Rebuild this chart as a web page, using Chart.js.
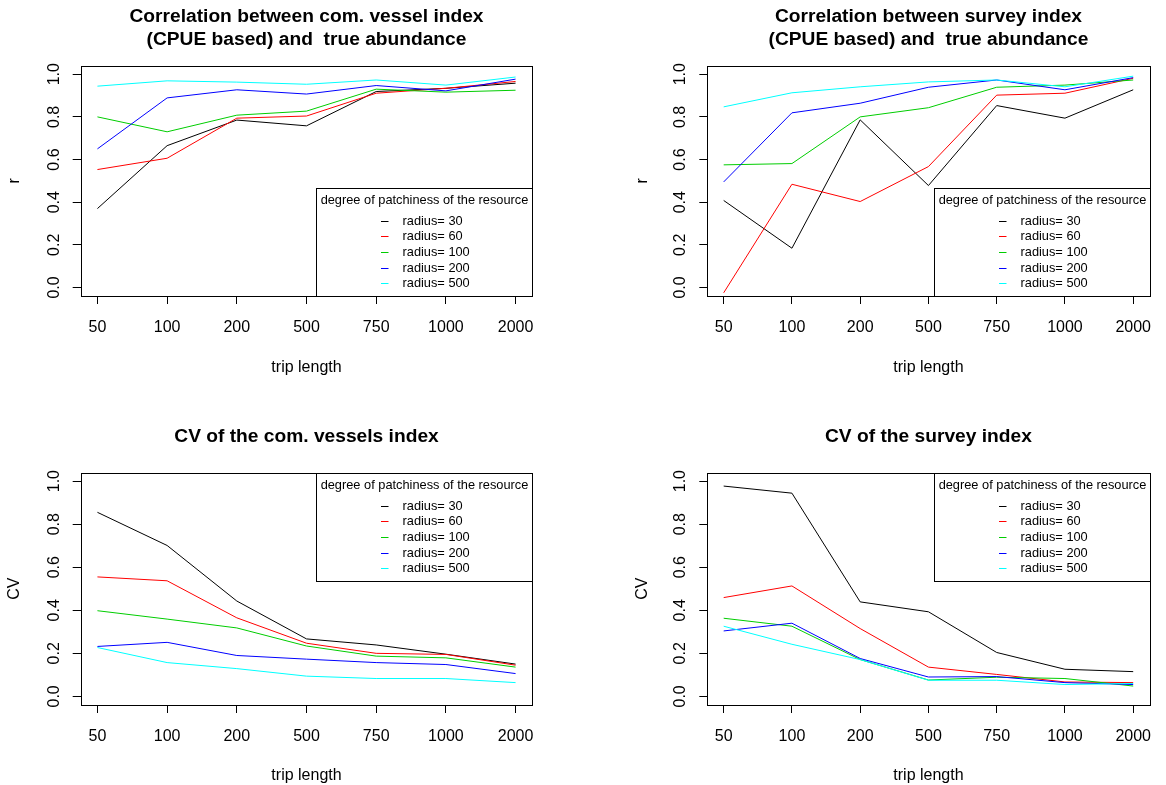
<!DOCTYPE html>
<html lang="en">
<head>
<meta charset="utf-8">
<title>Index vs true abundance by trip length</title>
<style>
  html, body { margin: 0; padding: 0; background: #fff; }
  #page { position: relative; width: 1166px; height: 785px; overflow: hidden; }
  #page canvas { position: absolute; }
</style>
</head>
<body>
<div id="page">
  <canvas id="comCorrCanvas" width="583" height="392" style="left:0;top:0"></canvas>
  <canvas id="surveyCorrCanvas" width="583" height="392" style="left:583px;top:0"></canvas>
  <canvas id="comCvCanvas" width="583" height="393" style="left:0;top:392px"></canvas>
  <canvas id="surveyCvCanvas" width="583" height="393" style="left:583px;top:392px"></canvas>
</div>
<script src="https://cdn.jsdelivr.net/npm/chart.js@4"></script>
<script>

// x categories (trip length) and the patchiness levels
const tripLengths = ['50', '100', '200', '500', '750', '1000', '2000'];
const radii = [30, 60, 100, 200, 500];
const lineColors = ['#000000', '#FF0000', '#00CD00', '#0000FF', '#00FFFF'];
const yTicks = [0, 0.2, 0.4, 0.6, 0.8, 1.0];

// one row per radius (30, 60, 100, 200, 500), one value per trip length
const comVesselCorr = [
  [0.370, 0.665, 0.785, 0.758, 0.919, 0.934, 0.958],
  [0.553, 0.606, 0.794, 0.804, 0.911, 0.934, 0.966],
  [0.800, 0.730, 0.808, 0.827, 0.930, 0.916, 0.925],
  [0.650, 0.889, 0.927, 0.907, 0.947, 0.922, 0.977],
  [0.944, 0.969, 0.963, 0.953, 0.973, 0.949, 0.987]
];
const surveyCorr = [
  [0.408, 0.184, 0.786, 0.478, 0.853, 0.794, 0.927],
  [-0.025, 0.484, 0.403, 0.567, 0.902, 0.911, 0.981],
  [0.575, 0.581, 0.800, 0.843, 0.939, 0.949, 0.973],
  [0.495, 0.819, 0.864, 0.939, 0.973, 0.927, 0.984],
  [0.847, 0.913, 0.941, 0.964, 0.973, 0.941, 0.991]
];
const comVesselCV = [
  [0.855, 0.701, 0.443, 0.267, 0.239, 0.196, 0.150],
  [0.555, 0.537, 0.365, 0.247, 0.200, 0.195, 0.145],
  [0.398, 0.359, 0.318, 0.234, 0.187, 0.179, 0.136],
  [0.232, 0.251, 0.190, 0.173, 0.157, 0.148, 0.106],
  [0.227, 0.157, 0.129, 0.094, 0.083, 0.083, 0.064]
];
const surveyCV = [
  [0.977, 0.944, 0.439, 0.393, 0.204, 0.126, 0.115],
  [0.459, 0.513, 0.315, 0.136, 0.102, 0.067, 0.064],
  [0.363, 0.326, 0.171, 0.076, 0.089, 0.083, 0.048],
  [0.304, 0.340, 0.176, 0.090, 0.092, 0.064, 0.055],
  [0.326, 0.242, 0.171, 0.075, 0.075, 0.055, 0.060]
];

Chart.defaults.font.family = '"Liberation Sans", Arial, Helvetica, sans-serif';
Chart.defaults.color = '#000';

// boxed legend inside the plot, like R's legend(title=...)
const patchLegend = {
  id: 'patchLegend',
  afterDatasetsDraw(chart, args, opts) {
    const ctx = chart.ctx, a = chart.chartArea;
    const w = 216, h = 108;
    const left = Math.round(a.right) - w + 0.5;
    const top = opts.corner === 'bottomright' ? Math.round(a.bottom) - h + 0.5 : Math.round(a.top) + 0.5;
    ctx.save();
    ctx.fillStyle = '#fff';
    ctx.fillRect(left, top, w, h);
    ctx.strokeStyle = '#000';
    ctx.lineWidth = 1;
    ctx.strokeRect(left, top, w, h);
    ctx.font = '12.8px "Liberation Sans", Arial, sans-serif';
    ctx.fillStyle = '#000';
    ctx.textAlign = 'center';
    ctx.textBaseline = 'middle';
    ctx.fillText(opts.title, left + w / 2, top + 12.3);
    ctx.textAlign = 'left';
    chart.data.datasets.forEach(function(ds, i) {
      const y = Math.round(top + 32 + i * 15.7) + 0.5;
      ctx.strokeStyle = ds.borderColor;
      ctx.beginPath();
      ctx.moveTo(left + 64.5, y);
      ctx.lineTo(left + 72, y);
      ctx.stroke();
      ctx.fillStyle = '#000';
      ctx.fillText(ds.label, left + 86, y);
    });
    ctx.restore();
  }
};

// full frame around the plot region
const plotBox = {
  id: 'plotBox',
  afterDatasetsDraw(chart) {
    const ctx = chart.ctx, a = chart.chartArea;
    ctx.save();
    ctx.strokeStyle = '#000';
    ctx.lineWidth = 1;
    ctx.strokeRect(Math.round(a.left) + 0.5, Math.round(a.top) + 0.5,
                   Math.round(a.right) - Math.round(a.left), Math.round(a.bottom) - Math.round(a.top));
    ctx.restore();
  }
};

function makePanel(canvasId, p) {
  const canvas = document.getElementById(canvasId);
  const W = canvas.width, H = canvas.height;
  const titleLH = 23;
  const titlePadTop = p.titleY - titleLH / 2;
  const titlePadBottom = p.box.top - titlePadTop - p.title.length * titleLH;
  const labelLH = 19.2;

  const datasets = radii.map(function(r, i) {
    return {
      label: 'radius= ' + r,
      data: p.values[i].map(function(v, j) { return {x: j + 1, y: v}; }),
      borderColor: lineColors[i],
      backgroundColor: lineColors[i],
      borderWidth: 1,
      pointRadius: 0,
      tension: 0,
      order: radii.length - i
    };
  });

  return new Chart(canvas, {
    type: 'line',
    data: { datasets: datasets },
    options: {
      responsive: false,
      animation: false,
      events: [],
      layout: { autoPadding: false, padding: { left: 0, right: W - p.box.right, top: 0, bottom: 0 } },
      plugins: {
        legend: { display: false },
        tooltip: { enabled: false },
        title: {
          display: true,
          fullSize: false,
          text: p.title,
          color: '#000',
          font: { size: 19.2, weight: 'bold', lineHeight: titleLH + 'px' },
          padding: { top: titlePadTop, bottom: titlePadBottom }
        },
        patchLegend: { corner: p.legendCorner, title: 'degree of patchiness of the resource' }
      },
      scales: {
        x: {
          type: 'linear',
          min: 0.76,
          max: 7.24,
          afterBuildTicks: function(s) { s.ticks = tripLengths.map(function(t, j) { return {value: j + 1}; }); },
          afterFit: function(s) { s.height = H - p.box.bottom; },
          grid: { drawOnChartArea: false, drawTicks: true, tickLength: 8, color: '#000' },
          border: { display: false },
          ticks: {
            color: '#000', font: { size: 16 }, padding: 14.4,
            maxRotation: 0, autoSkip: false,
            callback: function(v) { return tripLengths[v - 1]; }
          },
          title: {
            display: true, text: 'trip length', color: '#000', font: { size: 16 },
            padding: { top: 0, bottom: H - labelLH / 2 - p.xTitleY }
          }
        },
        y: {
          type: 'linear',
          min: -0.04,
          max: 1.04,
          afterBuildTicks: function(s) { s.ticks = yTicks.map(function(v) { return {value: v}; }); },
          afterFit: function(s) { s.width = p.box.left; },
          grid: { drawOnChartArea: false, drawTicks: true, tickLength: 8, color: '#000' },
          border: { display: false },
          ticks: {
            color: '#000', font: { size: 16 }, padding: 7.4,
            minRotation: 90, maxRotation: 90, crossAlign: 'center',
            callback: function(v) { return v.toFixed(1); }
          },
          title: {
            display: true, text: p.yTitle, color: '#000', font: { size: 16 },
            padding: { top: p.yTitleX - labelLH / 2, bottom: 0 }
          }
        }
      }
    },
    plugins: [patchLegend, plotBox]
  });
}

makePanel('comCorrCanvas', {
  title: ['Correlation between com. vessel index', '(CPUE based) and  true abundance'],
  values: comVesselCorr, yTitle: 'r', legendCorner: 'bottomright',
  box: { left: 80.7, top: 65.7, right: 532.3, bottom: 296 },
  titleY: 16.5, yTitleX: 15, xTitleY: 367.5
});
makePanel('surveyCorrCanvas', {
  title: ['Correlation between survey index', '(CPUE based) and  true abundance'],
  values: surveyCorr, yTitle: 'r', legendCorner: 'bottomright',
  box: { left: 124.3, top: 65.7, right: 576.3, bottom: 296 },
  titleY: 16.5, yTitleX: 60, xTitleY: 367.5
});
makePanel('comCvCanvas', {
  title: ['CV of the com. vessels index'],
  values: comVesselCV, yTitle: 'CV', legendCorner: 'topright',
  box: { left: 80.7, top: 80.5, right: 532.3, bottom: 313 },
  titleY: 44.5, yTitleX: 15, xTitleY: 383.5
});
makePanel('surveyCvCanvas', {
  title: ['CV of the survey index'],
  values: surveyCV, yTitle: 'CV', legendCorner: 'topright',
  box: { left: 124.3, top: 80.5, right: 576.3, bottom: 313 },
  titleY: 44.5, yTitleX: 60, xTitleY: 383.5
});

</script>
</body>
</html>
